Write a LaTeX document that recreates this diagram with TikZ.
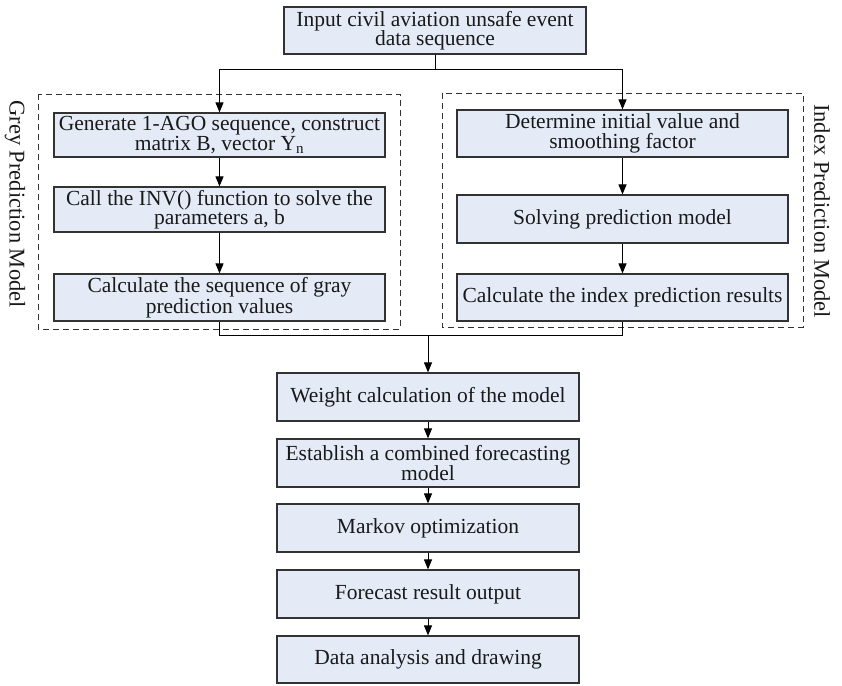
\documentclass[tikz,border=0pt]{standalone}
\usepackage{fontspec}
\setmainfont{Liberation Serif}
\usetikzlibrary{arrows.meta}
\definecolor{boxfill}{RGB}{228,235,247}
\definecolor{boxdraw}{RGB}{50,50,50}
\definecolor{txt}{RGB}{25,25,25}
\tikzset{
  pbox/.style={draw=boxdraw, line width=1.2pt, fill=boxfill, align=center, inner sep=0pt, text=txt,
    font=\fontsize{21.5}{19.5}\selectfont},
  grp/.style={draw=boxdraw, line width=1pt, dash pattern=on 6pt off 4pt},
  arr/.style={draw=black, line width=1pt, -{Triangle[length=10pt,width=8pt]}},
  ln/.style={draw=black, line width=1pt},
  sidelabel/.style={rotate=-90, text=txt, font=\fontsize{22.5}{22.5}\selectfont, inner sep=0pt}
}
\begin{document}
\begin{tikzpicture}[x=1pt,y=-1pt]
\useasboundingbox (0,0) rectangle (842,685);
% group frames
\draw[grp] (38,94) rectangle (400,329);
\draw[grp] (442,93) rectangle (803,327);
\node[sidelabel] (gl) at (15,204) {Grey Prediction Model};
\node[sidelabel] (il) at (822,211) {Index Prediction Model};
% boxes
\node[pbox, minimum width=302pt, minimum height=47pt] (top) at (435,30.5) {Input civil aviation unsafe event\\data sequence};
\node[pbox, minimum width=331pt, minimum height=44pt] (L1) at (219.5,135) {Generate 1-AGO sequence, construct\\matrix B, vector Y\textsubscript{n}};
\node[pbox, minimum width=331pt, minimum height=45pt] (L2) at (219.5,209.5) {Call the INV() function to solve the\\parameters a, b};
\node[pbox, minimum width=331pt, minimum height=47pt] (L3) at (219.5,297.5) {Calculate the sequence of gray\\prediction values};
\node[pbox, minimum width=331pt, minimum height=47pt] (R1) at (622.5,133.5) {Determine initial value and\\smoothing factor};
\node[pbox, minimum width=331pt, minimum height=48pt] (R2) at (622.5,219) {Solving prediction model};
\node[pbox, minimum width=331pt, minimum height=47pt] (R3) at (622.5,297.5) {Calculate the index prediction results};
\node[pbox, minimum width=302pt, minimum height=48pt] (W) at (428,397) {Weight calculation of the model};
\node[pbox, minimum width=302pt, minimum height=48pt] (E) at (428,463) {Establish a combined forecasting\\model};
\node[pbox, minimum width=302pt, minimum height=48pt] (M) at (428,528) {Markov optimization};
\node[pbox, minimum width=302pt, minimum height=48pt] (F) at (428,594) {Forecast result output};
\node[pbox, minimum width=302pt, minimum height=47pt] (D) at (428,659.5) {Data analysis and drawing};
% connectors
\coordinate (split) at (435,69);
\coordinate (join) at (428,335);
\draw[ln] (top.south) -- (split);
\draw[arr] (split) -| (L1.north);
\draw[arr] (split) -| (R1.north);
\draw[arr] (L1) -- (L2);
\draw[arr] (L2) -- (L3);
\draw[arr] (R1) -- (R2);
\draw[arr] (R2) -- (R3);
\draw[ln] (L3.south) |- (join);
\draw[ln] (R3.south) |- (join);
\draw[arr] (join) -- (W.north);
\draw[arr] (W) -- (E);
\draw[arr] (E) -- (M);
\draw[arr] (M) -- (F);
\draw[arr] (F) -- (D);
\end{tikzpicture}
\end{document}
